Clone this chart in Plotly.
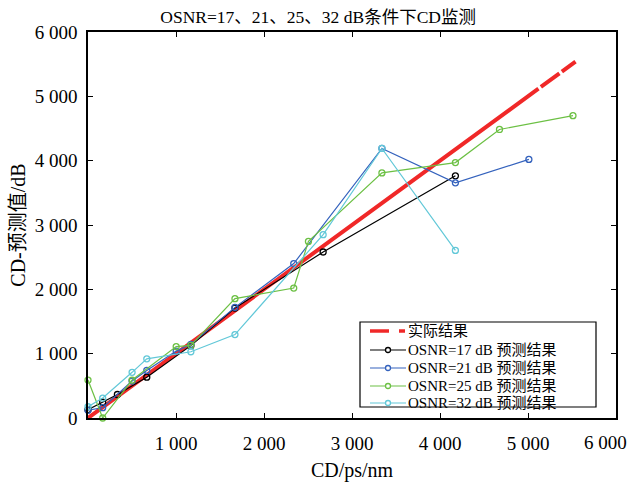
import plotly.graph_objects as go

# ---- data ----
title_text = "OSNR=17、21、25、32 dB条件下CD监测"
x_title = "CD/ps/nm"
y_title = "CD-预测值/dB"

x_tick_vals = [1000, 2000, 3000, 4000, 5000]
x_tick_text = ["1 000", "2 000", "3 000", "4 000", "5 000"]
x_last_tick_text = "6 000"
y_tick_vals = [0, 1000, 2000, 3000, 4000, 5000, 6000]
y_tick_text = ["0", "1 000", "2 000", "3 000", "4 000", "5 000", "6 000"]

actual_name = "实际结果"
actual_cd = [0, 5540]
actual_val = [0, 5540]

osnr17_name = "OSNR=17 dB 预测结果"
osnr17_cd = [0, 167, 334, 668, 1169, 1670, 2672, 4175]
osnr17_val = [130, 245, 365, 635, 1125, 1710, 2580, 3765]

osnr21_name = "OSNR=21 dB 预测结果"
osnr21_cd = [0, 167, 501, 668, 1002, 1169, 1670, 2338, 3340, 4175, 5010]
osnr21_val = [120, 160, 575, 740, 1040, 1145, 1720, 2400, 4190, 3655, 4020]

osnr25_name = "OSNR=25 dB 预测结果"
osnr25_cd = [0, 167, 501, 1002, 1169, 1670, 2338, 2505, 3340, 4175, 4676, 5511]
osnr25_val = [590, 0, 590, 1110, 1130, 1855, 2020, 2745, 3810, 3970, 4485, 4700]

osnr32_name = "OSNR=32 dB 预测结果"
osnr32_cd = [0, 167, 501, 668, 1169, 1670, 2672, 3340, 4175]
osnr32_val = [175, 310, 710, 920, 1030, 1297, 2850, 4190, 2605]

FONT = "Liberation Serif, 'Noto Sans CJK SC', serif"
W, H = 630, 482
ML, MR, MT, MB = 88, 14, 32, 64
PW, PH = W - ML - MR, H - MT - MB


def px(x):
    """pixel column -> paper x"""
    return (x - ML) / PW


def py(y):
    """pixel row -> paper y"""
    return (H - MB - y) / PH


fig = go.Figure()

# reference line y = x
RED = "#f02828"
fig.add_trace(go.Scatter(
    x=actual_cd, y=actual_val, mode="lines", name=actual_name, showlegend=False,
    line=dict(color=RED, width=4, dash="558px,3px,23px,3px,40px"),
))

series = [
    (osnr17_name, osnr17_cd, osnr17_val, "#000000"),
    (osnr21_name, osnr21_cd, osnr21_val, "#3462bd"),
    (osnr25_name, osnr25_cd, osnr25_val, "#6cc044"),
    (osnr32_name, osnr32_cd, osnr32_val, "#62c8d8"),
]
for name, xs, ys, col in series:
    fig.add_trace(go.Scatter(
        x=xs, y=ys, mode="lines+markers", name=name, showlegend=False,
        line=dict(color=col, width=1.2),
        marker=dict(symbol="circle-open", size=6, color=col, line=dict(width=1.3, color=col)),
        cliponaxis=False,
    ))

axis_common = dict(
    showgrid=False, zeroline=False,
    showline=True, linecolor="black", linewidth=1.6, mirror="allticks",
    ticks="inside", ticklen=5, tickwidth=1.4, tickcolor="black",
    tickfont=dict(family=FONT, size=19, color="black"),
)

fig.update_xaxes(
    range=[0, 6000], tickmode="array", tickvals=x_tick_vals, ticktext=x_tick_text,
    ticklabelstandoff=7,
    title=dict(text=x_title, font=dict(family=FONT, size=20, color="black"), standoff=10),
    **axis_common,
)
fig.update_yaxes(
    range=[0, 6000], tickmode="array", tickvals=y_tick_vals, ticktext=y_tick_text,
    ticklabelstandoff=5,
    title=dict(text=y_title, font=dict(family=FONT, size=20, color="black"), standoff=4),
    **axis_common,
)

fig.add_annotation(
    text=x_last_tick_text, xref="paper", yref="paper", x=px(629), y=py(430),
    xanchor="right", yanchor="top", showarrow=False,
    font=dict(family=FONT, size=19, color="black"),
)

# ---- legend box drawn in paper coordinates ----
shapes = [dict(type="rect", xref="paper", yref="paper",
               x0=px(360), x1=px(596), y0=py(407), y1=py(322),
               line=dict(color="black", width=1.2), fillcolor="white", layer="above")]
annotations = []
rows = [331, 350, 368, 386, 403]
# red dashed sample
shapes.append(dict(type="line", xref="paper", yref="paper", x0=px(370), x1=px(389),
                   y0=py(rows[0]), y1=py(rows[0]), line=dict(color=RED, width=3.5), layer="above"))
shapes.append(dict(type="line", xref="paper", yref="paper", x0=px(399), x1=px(405),
                   y0=py(rows[0]), y1=py(rows[0]), line=dict(color=RED, width=3.5), layer="above"))
legend_names = [actual_name] + [s[0] for s in series]
for (name, _, _, col), r in zip(series, rows[1:]):
    shapes.append(dict(type="line", xref="paper", yref="paper", x0=px(370), x1=px(406),
                       y0=py(r), y1=py(r), line=dict(color=col, width=1.2), layer="above"))
    shapes.append(dict(type="circle", xref="paper", yref="paper", x0=px(385.5), x1=px(390.5),
                       y0=py(r + 2.5), y1=py(r - 2.5), line=dict(color=col, width=1.3),
                       fillcolor="white", layer="above"))
for name, r in zip(legend_names, rows):
    annotations.append(dict(text=name, xref="paper", yref="paper", x=px(406), y=py(r),
                            xanchor="left", yanchor="middle", showarrow=False,
                            font=dict(family=FONT, size=15, color="black")))

fig.update_layout(
    width=W, height=H,
    margin=dict(l=ML, r=MR, t=MT, b=MB, autoexpand=False),
    paper_bgcolor="white", plot_bgcolor="white",
    title=dict(text=title_text, x=0.505, xanchor="center", y=0.965, yanchor="middle",
               font=dict(family=FONT, size=17.5, color="black")),
    showlegend=False,
    shapes=shapes,
)
for a in annotations:
    fig.add_annotation(**a)

fig.write_html("out.html")
